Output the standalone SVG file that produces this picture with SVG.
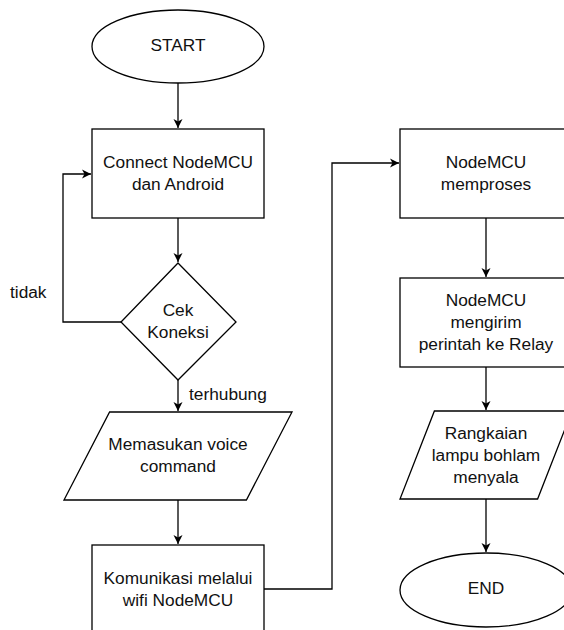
<svg xmlns="http://www.w3.org/2000/svg" width="564" height="630" viewBox="0 0 564 630">
<style>
.s{fill:#fff;stroke:#000;stroke-width:1.3}
.c{fill:none;stroke:#000;stroke-width:1.3}
text{font-family:"Liberation Sans",Arial,sans-serif;font-size:17.3px;fill:#111;text-anchor:middle;dominant-baseline:central}
.l{text-anchor:start}
</style>
<defs>
<marker id="a" markerWidth="10" markerHeight="10" refX="9" refY="5" orient="auto" markerUnits="userSpaceOnUse">
<path d="M0,0.5 L9,5 L0,9.5 L2.5,5 z" fill="#000"/>
</marker>
</defs>
<rect width="564" height="630" fill="#fff"/>
<g id="connectors">
<path class="c" d="M178,83 V128" marker-end="url(#a)"/>
<path class="c" d="M178,218 V262" marker-end="url(#a)"/>
<path class="c" d="M121,322 H63 V174 H91" marker-end="url(#a)"/>
<path class="c" d="M178,380 V411" marker-end="url(#a)"/>
<path class="c" d="M178,500 V544" marker-end="url(#a)"/>
<path class="c" d="M264,589 H332 V163 H399" marker-end="url(#a)"/>
<path class="c" d="M486,218 V277" marker-end="url(#a)"/>
<path class="c" d="M486,367 V410" marker-end="url(#a)"/>
<path class="c" d="M486,499 V552" marker-end="url(#a)"/>
<text class="l" x="10" y="292">tidak</text>
<text class="l" x="189" y="394">terhubung</text>
</g>
<g id="start">
<ellipse class="s" cx="178" cy="46.5" rx="86" ry="36.5"/>
<text x="178" y="45">START</text>
</g>
<g id="connect">
<rect class="s" x="92" y="129" width="172" height="89"/>
<text x="178" y="162">Connect NodeMCU</text>
<text x="178" y="184">dan Android</text>
</g>
<g id="cek">
<polygon class="s" points="178,263 236,322 178,380 121,322"/>
<text x="178" y="310">Cek</text>
<text x="178" y="332">Koneksi</text>
</g>
<g id="voice">
<polygon class="s" points="109.6,412 292,412 246.4,500 64,500"/>
<text x="178" y="444">Memasukan voice</text>
<text x="178" y="466">command</text>
</g>
<g id="komunikasi">
<rect class="s" x="92" y="545" width="172" height="89"/>
<text x="178" y="578">Komunikasi melalui</text>
<text x="178" y="600">wifi NodeMCU</text>
</g>
<g id="memproses">
<rect class="s" x="400" y="129" width="172" height="89"/>
<text x="486" y="162">NodeMCU</text>
<text x="486" y="184">memproses</text>
</g>
<g id="mengirim">
<rect class="s" x="400" y="278" width="172" height="89"/>
<text x="486" y="300">NodeMCU</text>
<text x="486" y="322">mengirim</text>
<text x="486" y="344">perintah ke Relay</text>
</g>
<g id="rangkaian">
<polygon class="s" points="434.4,411 572,411 537.6,499 400,499"/>
<text x="486" y="433">Rangkaian</text>
<text x="486" y="455">lampu bohlam</text>
<text x="486" y="477">menyala</text>
</g>
<g id="end">
<ellipse class="s" cx="486" cy="590" rx="86" ry="37"/>
<text x="486" y="588">END</text>
</g>
</svg>
